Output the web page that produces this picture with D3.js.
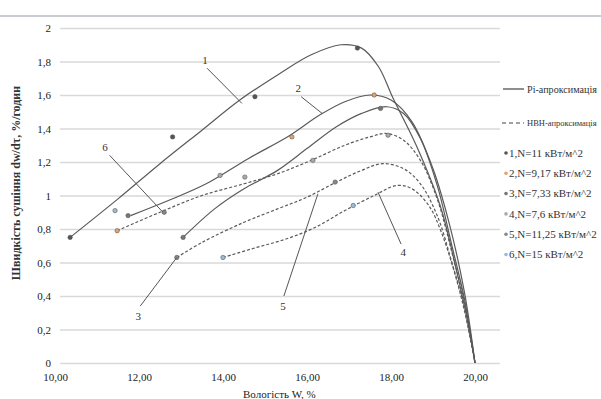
<!DOCTYPE html>
<html><head><meta charset="utf-8">
<script src="https://cdn.jsdelivr.net/npm/d3@7"></script>
<style>body{margin:0;background:#fff}svg{display:block}</style>
</head><body><svg id="c" width="601" height="399"></svg>
<script>
// ---- data ----
const xTicks = [10,12,14,16,18,20];
const xTickLabels = ["10,00","12,00","14,00","16,00","18,00","20,00"];
const yTicks = [0,0.2,0.4,0.6,0.8,1,1.2,1.4,1.6,1.8,2];
const yTickLabels = ["0","0,2","0,4","0,6","0,8","1","1,2","1,4","1,6","1,8","2"];
const xTitle = "Вологість W, %";
const yTitle = "Швидкість сушіння dw/dτ, %/годин";

// fitted curves
const c1x = [10.36,11.5,12.5,13.5,14.4,15.3,16.1,16.8,17.3,17.7,18.05,18.6,19.17,19.57,19.8,20];
const c1y = [0.75,0.98,1.19,1.39,1.57,1.72,1.84,1.90,1.88,1.77,1.58,1.30,0.94,0.54,0.28,0];
const c2x = [11.8,12.7,13.6,14.6,15.6,16.3,16.9,17.5,18.0,18.5,19.0,19.4,19.75,20];
const c2y = [0.88,0.97,1.07,1.22,1.36,1.48,1.56,1.60,1.57,1.44,1.16,0.82,0.42,0];
const c3x = [13.05,13.8,14.5,15.3,16.0,16.7,17.3,17.9,18.3,18.7,19.1,19.45,19.75,20];
const c3y = [0.75,0.92,1.04,1.15,1.28,1.41,1.49,1.53,1.49,1.34,1.06,0.70,0.38,0];
const c4x = [11.48,12.5,13.5,14.5,15.3,16.1,16.9,17.5,17.9,18.3,18.7,19.1,19.45,19.75,20];
const c4y = [0.79,0.90,1.00,1.07,1.13,1.21,1.30,1.35,1.37,1.33,1.21,0.98,0.66,0.36,0];
const c5x = [12.9,13.5,14.5,15.3,16.0,16.7,17.3,17.8,18.3,18.7,19.1,19.45,19.75,20];
const c5y = [0.63,0.72,0.84,0.92,0.99,1.08,1.15,1.19,1.16,1.07,0.88,0.60,0.33,0];
const c6x = [14.0,14.8,15.5,16.2,16.9,17.6,18.14,18.5,18.9,19.2,19.5,19.75,20];
const c6y = [0.63,0.69,0.74,0.81,0.91,1.00,1.06,1.04,0.94,0.78,0.55,0.31,0];
const curveXs = [c1x,c2x,c3x,c4x,c5x,c6x];
const curveYs = [c1y,c2y,c3y,c4y,c5y,c6y];
const curveDashed = [false,false,false,true,true,true];

// experimental points per legend series
const m1x = [10.36,12.8,14.76,17.2];   const m1y = [0.75,1.35,1.59,1.88];
const m2x = [11.48,15.64,17.6];        const m2y = [0.79,1.35,1.60];
const m3x = [13.05,11.74,17.75];       const m3y = [0.75,0.88,1.52];
const m4x = [13.93,14.52,16.14,17.93]; const m4y = [1.12,1.11,1.21,1.36];
const m5x = [12.9,16.67,12.6];         const m5y = [0.63,1.08,0.90];
const m6x = [14.0,11.43,17.1];         const m6y = [0.63,0.91,0.94];
const markXs = [m1x,m2x,m3x,m4x,m5x,m6x];
const markYs = [m1y,m2y,m3y,m4y,m5y,m6y];

const legendLines = ["Pi-апроксимація","НВН-апроксимація"];
const seriesNames = ["1,N=11 кВт/м^2","2,N=9,17 кВт/м^2","3,N=7,33 кВт/м^2","4,N=7,6 кВт/м^2","5,N=11,25 кВт/м^2","6,N=15 кВт/м^2"];
const seriesColors = ["#555555","#e6a26a","#777777","#aaaaaa","#888888","#9bbad8"];

// curve labels: text position and leader target (data units)
const labelText = ["1","2","3","4","5","6"];
const labelX = [13.57,15.79,11.98,18.29,15.43,11.19];
const labelY = [1.81,1.64,0.28,0.66,0.34,1.29];
const leadFromX = [13.62,15.86,12.03,18.24,15.45,11.3];
const leadFromY = [1.76,1.59,0.34,0.71,0.40,1.24];
const leadToX = [14.45,16.36,12.9,17.69,16.26,12.57];
const leadToY = [1.55,1.49,0.63,1.02,1.01,0.90];

// ---- drawing ----
const svg = d3.select("#c");
const FONT = "'Liberation Serif','Times New Roman',serif";
const x = d3.scaleLinear().domain([10,20]).range([55,475]);
const y = d3.scaleLinear().domain([0,2]).range([363,28]);

svg.append("line").attr("x1",0).attr("x2",601).attr("y1",16).attr("y2",16)
  .attr("stroke","#cacad2").attr("stroke-width",2);

// y axis with gridlines
const gy = svg.append("g").attr("transform","translate(500,0)")
  .call(d3.axisLeft(y).tickValues(yTicks).tickSize(440).tickPadding(9)
    .tickFormat((d,i)=>yTickLabels[i]));
gy.select(".domain").remove();
gy.selectAll(".tick line").attr("stroke","#d9d9d9").attr("stroke-width",1.4);
gy.selectAll(".tick text").attr("font-family",FONT).attr("font-size",11).attr("fill","#222");

// x axis
const gx = svg.append("g").attr("transform","translate(0,363)")
  .call(d3.axisBottom(x).tickValues(xTicks).tickSize(0).tickPadding(10)
    .tickFormat((d,i)=>xTickLabels[i]));
gx.select(".domain").remove();
gx.selectAll(".tick text").attr("font-family",FONT).attr("font-size",11).attr("fill","#222");

svg.append("text").attr("x",243).attr("y",398).attr("font-family",FONT)
  .attr("font-size",11).attr("fill","#222").text(xTitle);
svg.append("text").attr("transform","translate(20,183) rotate(-90)")
  .attr("text-anchor","middle").attr("font-family",FONT).attr("font-size",12)
  .attr("font-weight","bold").attr("fill","#333").text(yTitle);

// curves
const line = d3.line().x(d=>x(d[0])).y(d=>y(d[1])).curve(d3.curveCatmullRom.alpha(0.5));
curveXs.forEach((xs,i)=>{
  const pts = xs.map((v,j)=>[v,curveYs[i][j]]);
  svg.append("path").attr("d",line(pts)).attr("fill","none")
    .attr("stroke","#5a5a5a").attr("stroke-width",1.2)
    .attr("stroke-dasharray",curveDashed[i]?"3,2":null);
});

// markers
markXs.forEach((xs,i)=>{
  xs.forEach((v,j)=>{
    svg.append("circle").attr("cx",x(v)).attr("cy",y(markYs[i][j])).attr("r",2.2)
      .attr("fill",seriesColors[i]).attr("stroke","#444").attr("stroke-width",0.5);
  });
});

// leaders and labels
labelText.forEach((t,i)=>{
  svg.append("line").attr("x1",x(leadFromX[i])).attr("y1",y(leadFromY[i]))
    .attr("x2",x(leadToX[i])).attr("y2",y(leadToY[i]))
    .attr("stroke","#555").attr("stroke-width",1);
  svg.append("text").attr("x",x(labelX[i])).attr("y",y(labelY[i])).attr("dy","0.35em")
    .attr("text-anchor","middle").attr("font-family",FONT).attr("font-size",11)
    .attr("fill","#333").text(t);
});

// legend
const lg = svg.append("g");
lg.append("line").attr("x1",503).attr("x2",524).attr("y1",89).attr("y2",89)
  .attr("stroke","#444").attr("stroke-width",1.2);
lg.append("text").attr("x",527).attr("y",89).attr("dy","0.35em").attr("font-family",FONT)
  .attr("font-size",10.5).attr("textLength",70).attr("lengthAdjust","spacingAndGlyphs")
  .attr("fill","#333").text(legendLines[0]);
lg.append("line").attr("x1",502).attr("x2",524).attr("y1",123).attr("y2",123)
  .attr("stroke","#444").attr("stroke-width",1.2).attr("stroke-dasharray","4,3");
lg.append("text").attr("x",527).attr("y",123).attr("dy","0.35em").attr("font-family",FONT)
  .attr("font-size",8.5).attr("fill","#333").text(legendLines[1]);
seriesNames.forEach((s,i)=>{
  const yy = 153 + i*20.3;
  lg.append("circle").attr("cx",506).attr("cy",yy).attr("r",1.8).attr("fill",seriesColors[i]);
  lg.append("text").attr("x",509).attr("y",yy).attr("dy","0.35em").attr("font-family",FONT)
    .attr("font-size",11).attr("fill","#333").text(s);
});
</script></body></html>
